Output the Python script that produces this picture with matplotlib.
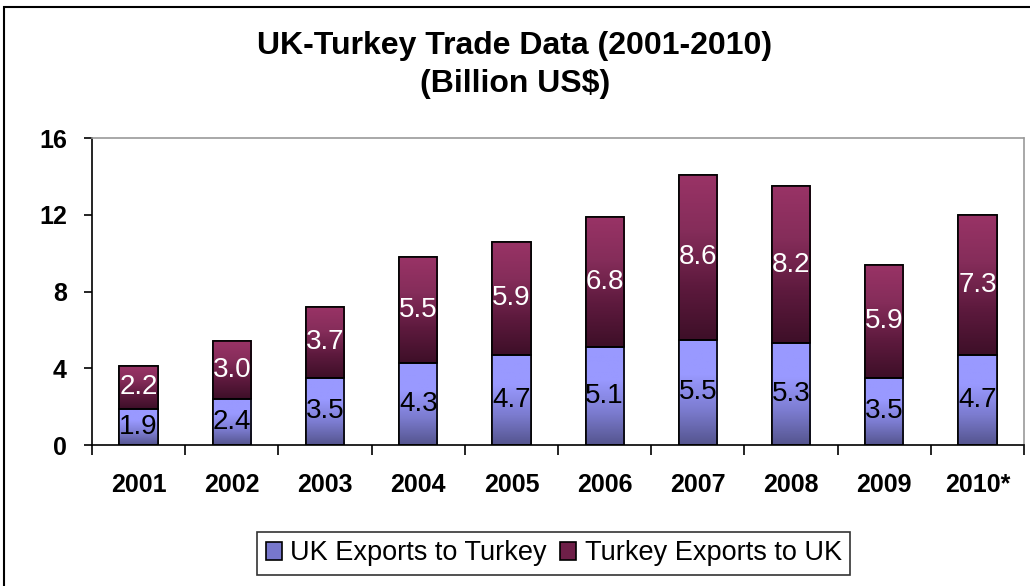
import matplotlib.pyplot as plt
import numpy as np
from matplotlib.colors import LinearSegmentedColormap
from matplotlib.patches import Rectangle

plt.rcParams['font.family'] = ['Liberation Sans', 'DejaVu Sans']

years = ['2001', '2002', '2003', '2004', '2005', '2006', '2007', '2008', '2009', '2010*']
uk_exports = [1.9, 2.4, 3.5, 4.3, 4.7, 5.1, 5.5, 5.3, 3.5, 4.7]
turkey_exports = [2.2, 3.0, 3.7, 5.5, 5.9, 6.8, 8.6, 8.2, 5.9, 7.3]

fig = plt.figure(figsize=(10.3, 5.86), dpi=100)
ax = fig.add_axes([0.0893, 0.2406, 0.905, 0.5236])

x = np.arange(len(years))
w = 0.41
b1 = ax.bar(x, uk_exports, w, color='#9999ff', edgecolor='black', linewidth=1.2,
            label='UK Exports to Turkey', zorder=2)
b2 = ax.bar(x, turkey_exports, w, bottom=uk_exports, color='#993366', edgecolor='black',
            linewidth=1.2, label='Turkey Exports to UK', zorder=2)

# gradient fills clipped to each bar
cm_blue = LinearSegmentedColormap.from_list('b', ['#55558f', '#7c7cd0', '#9999ff', '#9999ff'])
cm_red = LinearSegmentedColormap.from_list('r', ['#3e0f28', '#5e1a3e', '#852d5a', '#993366'])
grad = np.linspace(0, 1, 100).reshape(-1, 1)
for bars, cm in ((b1, cm_blue), (b2, cm_red)):
    for p in bars:
        x0, y0 = p.get_x(), p.get_y()
        im = ax.imshow(grad, cmap=cm, aspect='auto', origin='lower',
                       extent=(x0, x0 + p.get_width(), y0, y0 + p.get_height()), zorder=2.5)
        im.set_clip_path(p)
        ec = Rectangle((x0, y0), p.get_width(), p.get_height(), fill=False,
                       edgecolor='black', linewidth=1.2, zorder=3)
        ax.add_patch(ec)

for i in x:
    ax.text(i, uk_exports[i] / 2, f'{uk_exports[i]:.1f}', ha='center', va='center',
            fontsize=20, color='black', zorder=4)
    ax.text(i, uk_exports[i] + turkey_exports[i] / 2, f'{turkey_exports[i]:.1f}',
            ha='center', va='center', fontsize=20, color='white', zorder=4)

ax.set_xlim(-0.5, len(years) - 0.5)
ax.set_ylim(0, 16)
ax.set_yticks([0, 4, 8, 12, 16])
ax.set_xticks(x)
ax.set_xticklabels(years)
ax.set_xticks(np.arange(-0.5, len(years)), minor=True)
ax.tick_params(axis='x', which='major', length=0, pad=20, labelsize=18)
ax.tick_params(axis='x', which='minor', length=7, width=1.2, direction='out')
ax.tick_params(axis='y', length=6, width=1.2, direction='out', pad=12, labelsize=18)
for lab in ax.get_xticklabels() + ax.get_yticklabels():
    lab.set_fontweight('bold')

ax.spines['left'].set_linewidth(1.2)
ax.spines['bottom'].set_linewidth(1.2)
for s in ('top', 'right'):
    ax.spines[s].set_color('#999999')
    ax.spines[s].set_linestyle((0, (1, 1)))
    ax.spines[s].set_linewidth(1.2)

fig.text(0.5, 0.922, 'UK-Turkey Trade Data (2001-2010)', ha='center', va='center',
         fontsize=23, fontweight='bold')
fig.text(0.5, 0.856, '(Billion US$)', ha='center', va='center',
         fontsize=23, fontweight='bold')

leg = fig.legend(handles=[b1, b2], loc='center', bbox_to_anchor=(0.5375, 0.0555), ncol=2,
                 fontsize=19.5, frameon=True, fancybox=False, handlelength=0.6,
                 handleheight=0.6, handletextpad=0.3, columnspacing=0.5,
                 borderpad=0.3, edgecolor='black')
leg.get_frame().set_linewidth(1.2)
leg.legend_handles[0].set_facecolor('#7777cc')
leg.legend_handles[1].set_facecolor('#6e1f48')

# outer chart border (only left and top visible in the reference)
fig.patches.append(Rectangle((0.004, -0.1), 1.1, 1.088, transform=fig.transFigure,
                             fill=False, edgecolor='black', linewidth=1.5))

fig.savefig('out.png', dpi=100)
